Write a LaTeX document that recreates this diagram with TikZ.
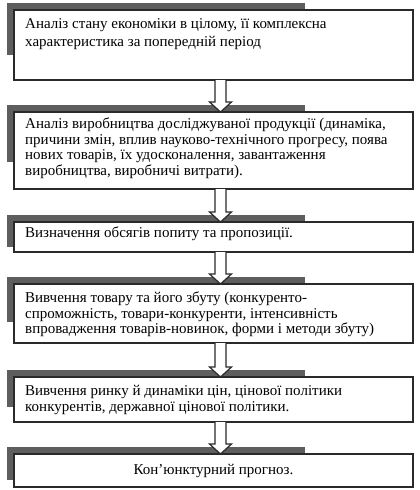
\documentclass[tikz,border=0pt]{standalone}
\usepackage{fontspec}
\setmainfont{Liberation Serif}
\usetikzlibrary{calc,backgrounds}

\begin{document}
\begin{tikzpicture}[x=1pt,y=-1pt,
    box/.style={draw=borderColour, line width=1.4pt, fill=white, minimum width=399pt, inner sep=0pt, outer sep=0pt, anchor=north west},
    boxtext/.style={anchor=north west, inner sep=0pt, align=left, font=\fontsize{15}{15.6}\selectfont},
    hollow/.style={draw=borderColour, line width=1.2pt, fill=white, line join=miter}]
    % Define colours
    \definecolor{borderColour}{HTML}{2A2A2A}
    \definecolor{barColour}{HTML}{5E5E5E}

    % Fix the picture size
    \useasboundingbox (0,0) rectangle (420,490);

    % Define where the grey bars and the arrows sit
    \coordinate (barEnd) at (305,0);
    \coordinate (arrowX) at (220.5,0);

    % Draw the boxes
    \node[box, minimum height=70pt] (b1) at (14,10) {};
    \node[box, minimum height=77pt] (b2) at (14,112) {};
    \node[box, minimum height=30pt] (b3) at (14,222) {};
    \node[box, minimum height=59pt] (b4) at (14,284) {};
    \node[box, minimum height=45pt] (b5) at (14,377) {};
    \node[box, minimum height=33pt] (b6) at (14,454) {};

    % Grey bars behind the boxes
    \begin{scope}[on background layer]
        \foreach \b/\d in {b1/25,b2/27,b3/5,b4/21,b5/15,b6/7}
            \fill[barColour] ($(\b.north west)+(-7,-7)$) rectangle ($(\b.south west -| barEnd)+(0,-\d)$);
    \end{scope}

    % Box texts
    \node[boxtext, font=\fontsize{15}{18}\selectfont] (t1) at ($(b1.north west)+(11,8)$)
        {Аналіз стану економіки в цілому, її комплексна\\характеристика за попередній період};
    \node[boxtext] (t2) at ($(b2.north west)+(11,5.5)$)
        {Аналіз виробництва досліджуваної продукції (динаміка,\\причини змін, вплив науково-технічного прогресу, поява\\нових товарів, їх удосконалення, завантаження\\виробництва, виробничі витрати).};
    \node[boxtext] (t3) at ($(b3.north west)+(11,5)$)
        {Визначення обсягів попиту та пропозиції.};
    \node[boxtext] (t4) at ($(b4.north west)+(11,7.5)$)
        {Вивчення товару та його збуту (конкуренто-\\спроможність, товари-конкуренти, інтенсивність\\впровадження товарів-новинок, форми і методи збуту)};
    \node[boxtext] (t5) at ($(b5.north west)+(11,8.5)$)
        {Вивчення ринку й динаміки цін, цінової політики\\конкурентів, державної цінової політики.};
    \node[boxtext, anchor=center] (t6) at (b6.center)
        {Кон’юнктурний прогноз.};

    % Hollow arrows between the boxes
    \foreach \a/\b in {b1/b2,b2/b3,b3/b4,b4/b5,b5/b6}
        \draw[hollow] ($(\a.south -| arrowX)+(-5.5,0)$) -- ($(\b.north -| arrowX)+(-5.5,-10)$) -- ++(-5.5,0)
            -- (\b.north -| arrowX) -- ++(11,-10) -- ++(-5.5,0) -- ($(\a.south -| arrowX)+(5.5,0)$);

\end{tikzpicture}
\end{document}
